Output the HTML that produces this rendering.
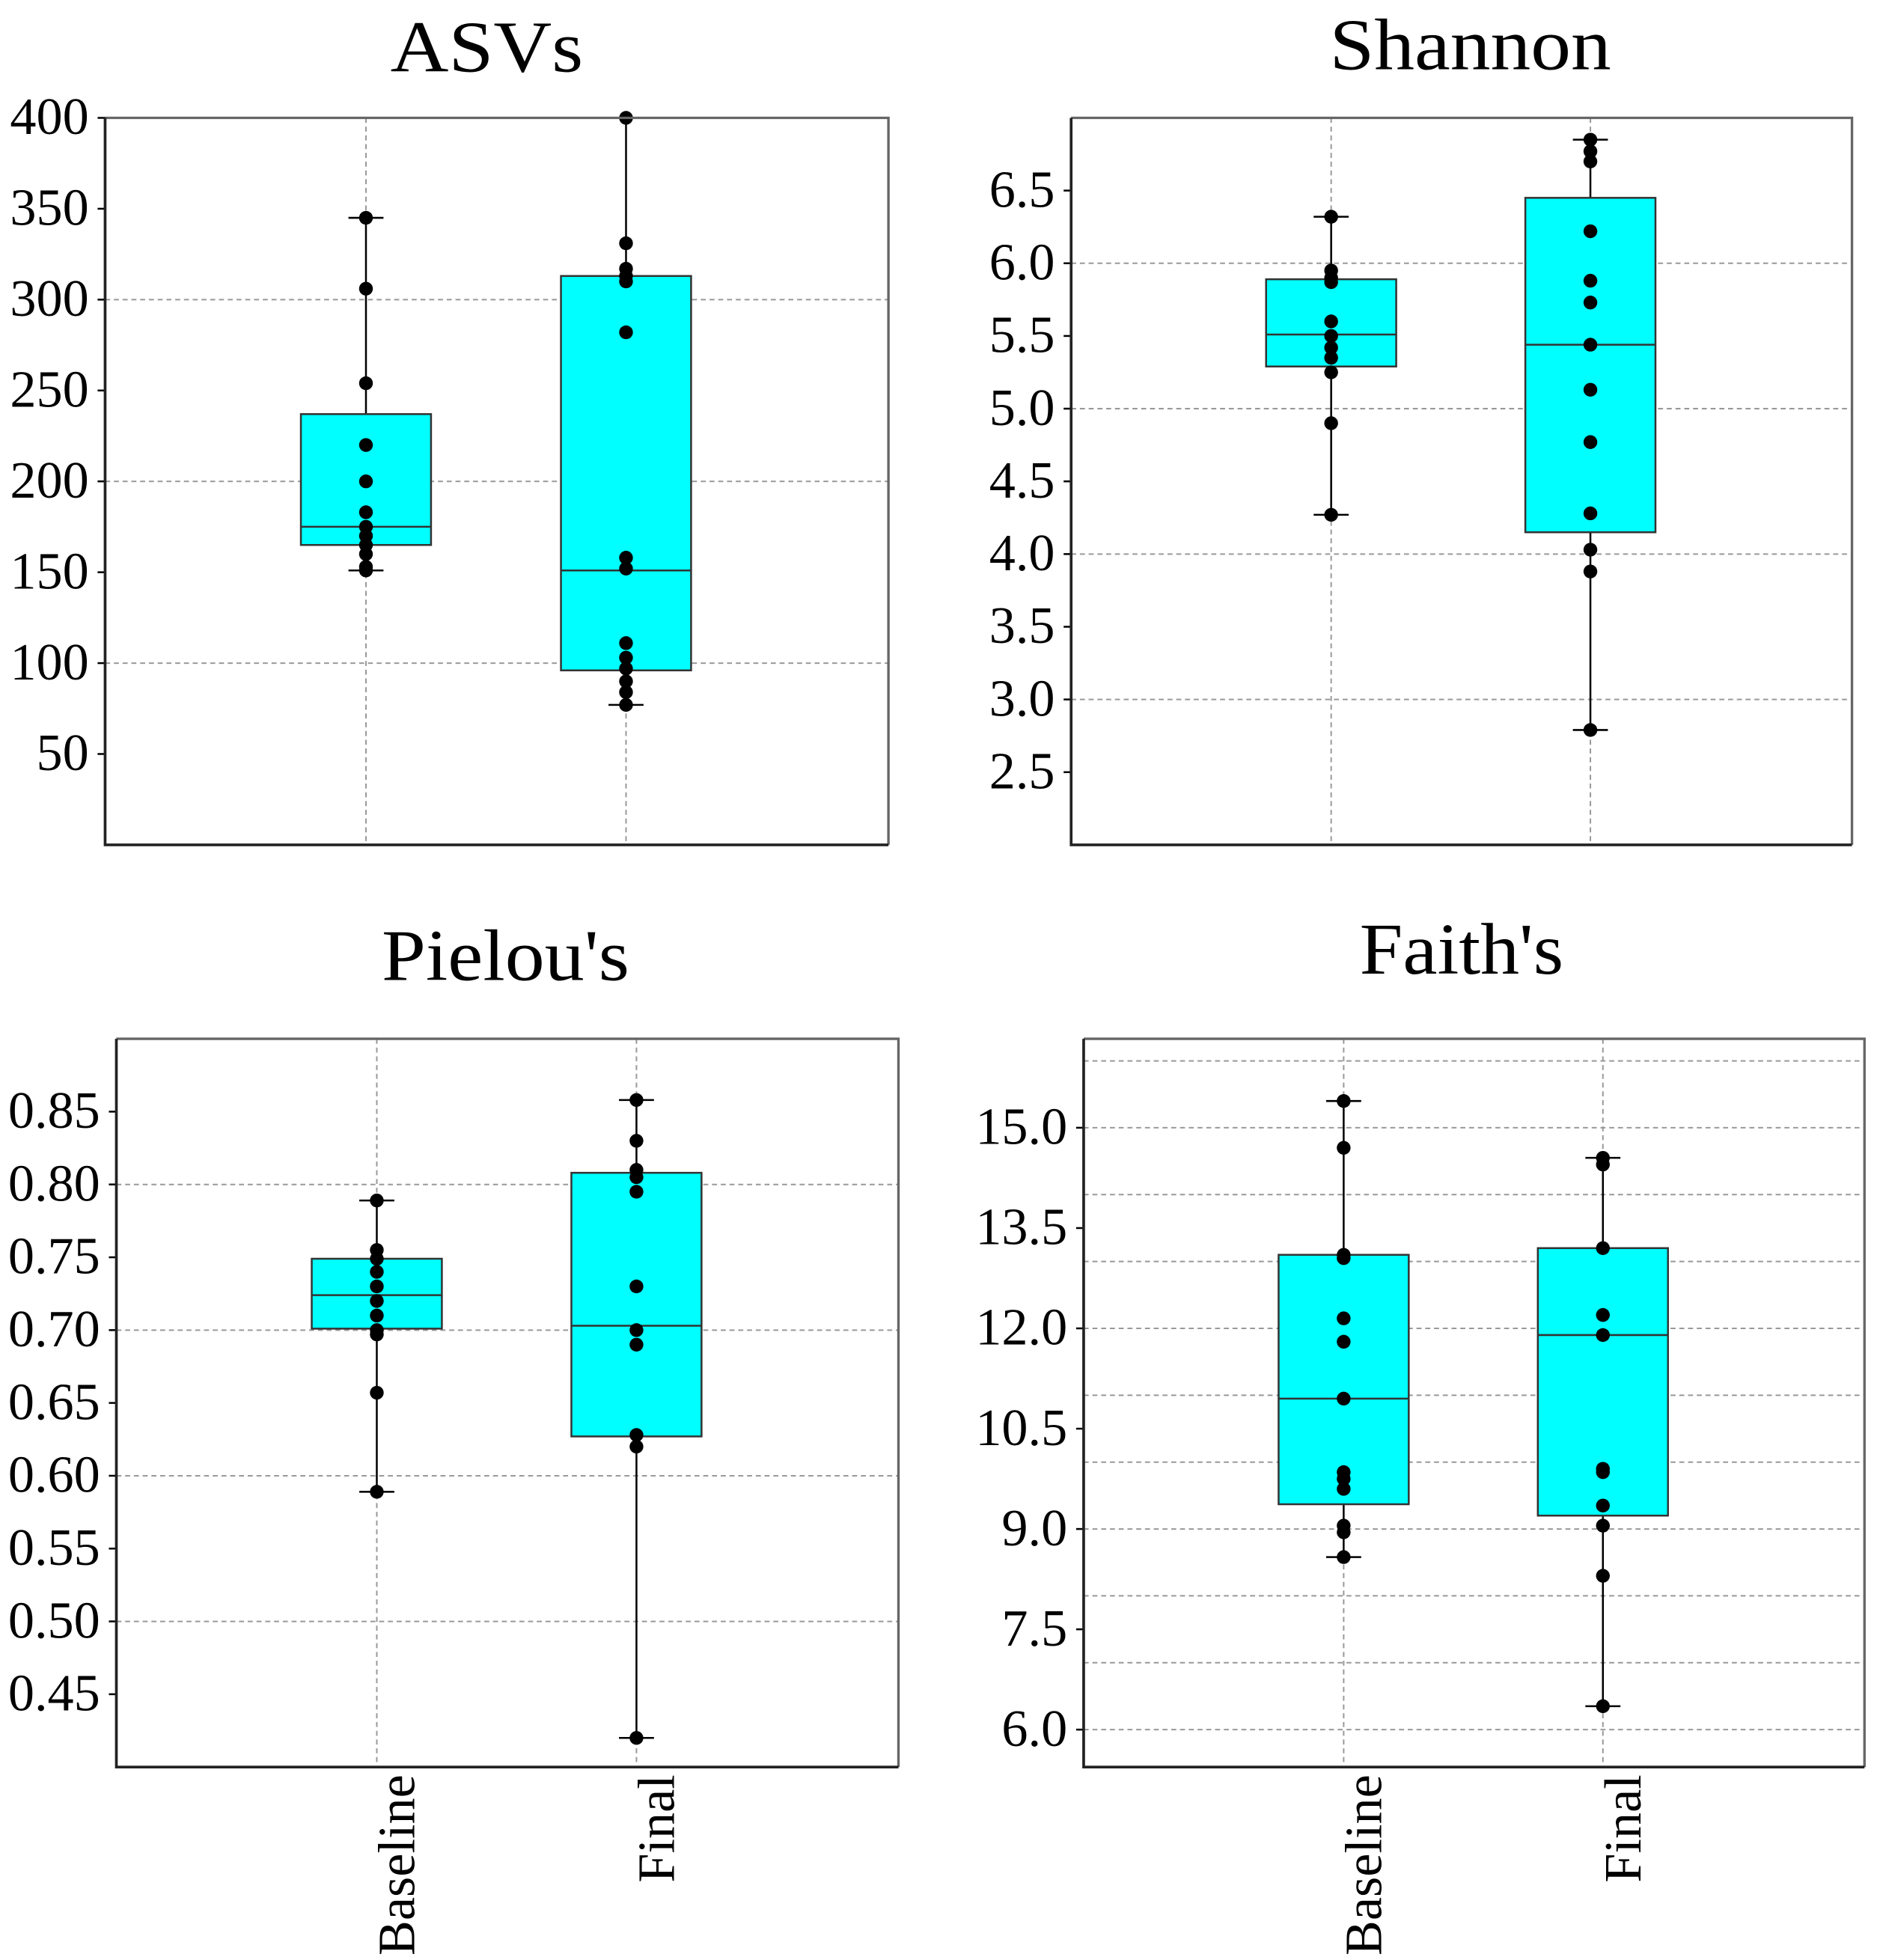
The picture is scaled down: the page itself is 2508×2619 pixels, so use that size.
<!DOCTYPE html>
<html><head><meta charset="utf-8"><style>html,body{margin:0;padding:0;background:#fff}svg{display:block}</style></head>
<body>
<svg id="chart" width="2508" height="2619" viewBox="0 0 1500 1566" xmlns="http://www.w3.org/2000/svg" font-family="'Liberation Serif', serif"></svg>
<script>
const categories = ["Baseline", "Final"];
const asvTicks = [50,100,150,200,250,300,350,400];
const asvGrid = [100,200,300];
const asvStats = [[151,165,175,237,345],[77,96,151,313,400]];
const asvPoints = [[345,306,254,220,200,183,175,170,165,160,153,151],[400,331,317,313,310,282,158,152,111,103,97,90,84,77]];
const shTicks = ["2.5","3.0","3.5","4.0","4.5","5.0","5.5","6.0","6.5"];
const shGrid = [3,4,5,6];
const shStats = [[4.27,5.29,5.51,5.89,6.32],[2.79,4.15,5.44,6.45,6.85]];
const shPoints = [[6.32,5.95,5.9,5.87,5.6,5.5,5.42,5.35,5.25,4.9,4.27],[6.85,6.77,6.7,6.22,5.88,5.73,5.44,5.13,4.77,4.28,4.03,3.88,2.79]];
const piTicks = ["0.45","0.50","0.55","0.60","0.65","0.70","0.75","0.80","0.85"];
const piGrid = [0.5,0.6,0.7,0.8];
const piStats = [[0.589,0.701,0.724,0.749,0.789],[0.42,0.627,0.703,0.808,0.858]];
const piPoints = [[0.789,0.755,0.749,0.74,0.73,0.72,0.71,0.70,0.697,0.657,0.589],[0.858,0.83,0.81,0.805,0.795,0.73,0.70,0.69,0.628,0.62,0.42]];
const faTicks = ["6.0","7.5","9.0","10.5","12.0","13.5","15.0"];
const faGrid = [6,7,8,9,10,11,12,13,14,15,16];
const faStats = [[8.58,9.37,10.95,13.1,15.4],[6.35,9.2,11.9,13.2,14.55]];
const faPoints = [[15.4,14.7,13.1,13.05,12.15,11.8,10.95,9.85,9.75,9.6,9.05,8.95,8.58],[14.55,14.45,13.2,12.2,11.9,9.9,9.85,9.35,9.05,8.3,6.35]];

const NS="http://www.w3.org/2000/svg";
const svg=document.getElementById('chart');
function mk(tag,attrs,parent){const e=document.createElementNS(NS,tag);for(const k in attrs)e.setAttribute(k,attrs[k]);(parent||svg).appendChild(e);return e;}

function panel(p){
  const g=mk('g',{});
  
  
  const y=v=>p.y1-(v-p.vmin)/(p.vmax-p.vmin)*(p.y1-p.y0);
  const xc=[p.x0+(p.x1-p.x0)*0.333,p.x0+(p.x1-p.x0)*0.665];
  const t=mk('text',{x:p.tx-p.tw/2,y:p.ty,'font-size':58,textLength:p.tw,lengthAdjust:'spacingAndGlyphs'},g);t.textContent=p.title;
  
  
  p.grid.forEach(v=>{const l=mk('line',{x1:p.x0,x2:p.x1,y1:y(v),y2:y(v),stroke:'#999','stroke-width':1.2,'stroke-dasharray':'4,3'},g);
    
    });
  xc.forEach(x=>{const l=mk('line',{x1:x,x2:x,y1:p.y0,y2:p.y1,stroke:'#999','stroke-width':1.2,'stroke-dasharray':'4,3'},g);
    
    });
  p.ticks.forEach(s=>{const v=parseFloat(s);
    const tk=mk('line',{x1:p.x0-6,x2:p.x0,y1:y(v),y2:y(v),stroke:'#000','stroke-width':1.5},g);
    
    
    const tx=mk('text',{x:p.x0-13,y:y(v)+13,'text-anchor':'end','font-size':42},g);tx.textContent=s;
    
    });
  p.stats.forEach((st,i)=>{const x=xc[i],hw=52;
    const wl=mk('line',{x1:x,x2:x,y1:y(st[0]),y2:y(st[4]),stroke:'#000','stroke-width':1.5},g);
    
    
    [st[0],st[4]].forEach(v=>{const c=mk('line',{x1:x-14,x2:x+14,y1:y(v),y2:y(v),stroke:'#000','stroke-width':1.5},g);
      
      });
    const b=mk('rect',{x:x-hw,y:y(st[3]),width:hw*2,height:y(st[1])-y(st[3]),fill:'#00ffff',stroke:'#333','stroke-width':1.5},g);
    
    
    const m=mk('line',{x1:x-hw,x2:x+hw,y1:y(st[2]),y2:y(st[2]),stroke:'#333','stroke-width':1.5},g);
    
    
    p.points[i].forEach(v=>{const c=mk('circle',{cx:x,cy:y(v),r:5.5,fill:'#000'},g);
      
      });
  });
  const top=mk('path',{d:`M${p.x0},${p.y0}H${p.x1}V${p.y1}`,fill:'none',stroke:'#666','stroke-width':2},g);
  
  
  const ax=mk('path',{d:`M${p.x0},${p.y0}V${p.y1}H${p.x1}`,fill:'none',stroke:'#222','stroke-width':2.2},g);
  
  
  if(p.xlabels){categories.forEach((c,i)=>{const x=xc[i]+30;
    const tx=mk('text',{x:0,y:0,transform:`translate(${x},${p.y1+6}) rotate(-90)`,'text-anchor':'end','font-size':42},g);tx.textContent=c;
    
    });}
}
panel({name:'asvs',title:'ASVs',tx:389,tw:154,ty:57,x0:84,x1:710,y0:94,y1:675,vmin:0,vmax:400,ticks:asvTicks.map(String),grid:asvGrid,stats:asvStats,points:asvPoints});
panel({name:'shannon',title:'Shannon',tx:1175,tw:225,ty:55,x0:856,x1:1480,y0:94,y1:675,vmin:2,vmax:7,ticks:shTicks,grid:shGrid,stats:shStats,points:shPoints});
panel({name:'pielou',title:"Pielou's",tx:404,tw:198,ty:783,x0:93,x1:718,y0:830,y1:1412,vmin:0.4,vmax:0.9,ticks:piTicks,grid:piGrid,stats:piStats,points:piPoints,xlabels:true});
panel({name:'faith',title:"Faith's",tx:1168,tw:163,ty:778,x0:866,x1:1490,y0:830,y1:1412,vmin:5.44,vmax:16.33,ticks:faTicks,grid:faGrid,stats:faStats,points:faPoints,xlabels:true});
</script>
</body></html>
